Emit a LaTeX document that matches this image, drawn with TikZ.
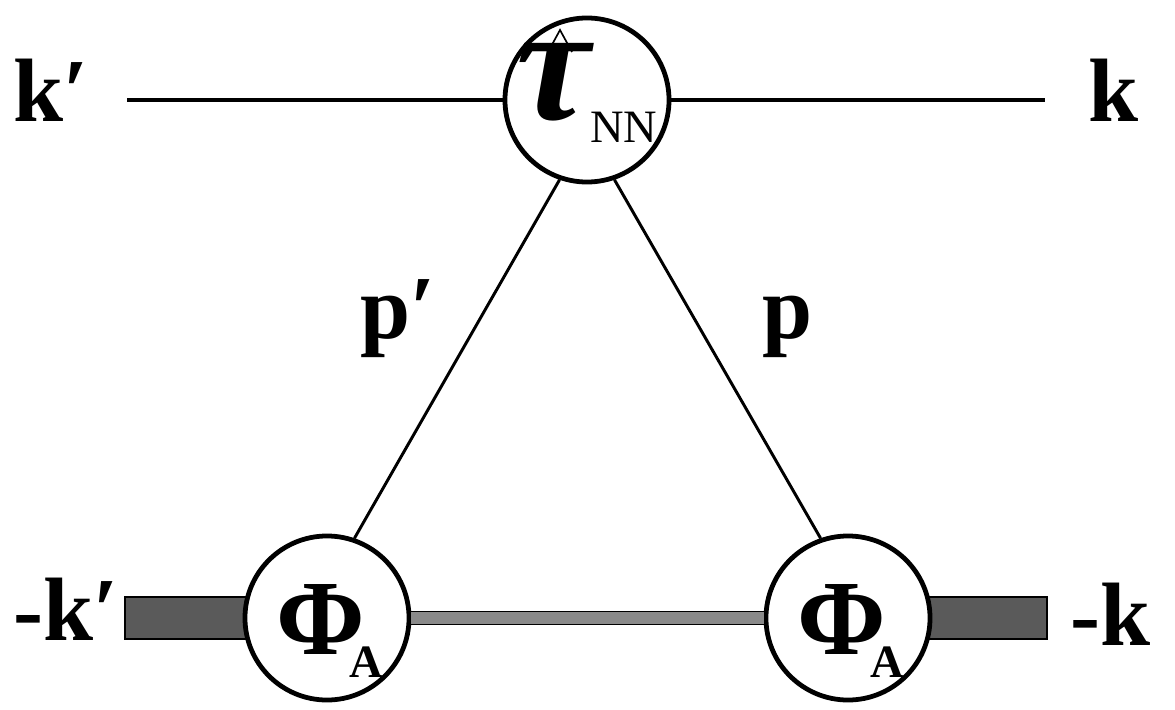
\documentclass[tikz,border=0pt]{standalone}
\usepackage{fontspec}
\setmainfont{Liberation Serif}
\usetikzlibrary{positioning,calc}
\definecolor{bargray}{RGB}{90,90,90}
\definecolor{linkgray}{RGB}{138,138,138}
% fixed-size contents, so that the circles keep their size
\newcommand{\incircle}[2]{\smash{\makebox[0pt]{\raisebox{#1}{#2}}}}

\begin{document}
\begin{tikzpicture}[x=0.025cm,y=-0.025cm,
    vertex/.style={circle, draw, fill=white, line width=3.4pt, inner sep=0pt, minimum size=4.1cm},
    leg/.style={line width=2.8pt},
    prop/.style={line width=2.1pt},
    bar/.style={fill=bargray, draw=black, line width=1.4pt},
    link/.style={draw=black, line width=1.2pt, double=linkgray, double distance=8pt},
    lbl/.style={font=\fontsize{64}{64}\selectfont\bfseries, inner sep=0pt, anchor=base west}]
    \useasboundingbox (0,0) rectangle (1175,709);
    % bottom legs, drawn under the circles
    \coordinate (pL) at (327,618);
    \coordinate (pR) at (848,618);
    \coordinate (mkpEnd) at (125,618);
    \coordinate (mkEnd) at (1047,618);
    \draw[bar] ($(mkpEnd)+(0,-21)$) rectangle ($(pL)+(0,21)$);
    \draw[bar] ($(pR)+(0,-21)$) rectangle ($(mkEnd)+(0,21)$);
    \node[vertex] (tau) at (587,100) {\incircle{-14pt}{\fontsize{118}{118}\selectfont\bfseries\itshape τ\raisebox{-16pt}{\fontsize{33}{33}\selectfont\mdseries\upshape NN}}};
    \node[vertex] (phiL) at (pL) {\incircle{-26pt}{\hspace{4pt}\fontsize{76}{76}\selectfont\bfseries Φ\hspace{-11pt}\raisebox{-16pt}{\fontsize{33}{33}\selectfont\bfseries A}}};
    \node[vertex] (phiR) at (pR) {\incircle{-26pt}{\hspace{4pt}\fontsize{76}{76}\selectfont\bfseries Φ\hspace{-11pt}\raisebox{-16pt}{\fontsize{33}{33}\selectfont\bfseries A}}};
    % hat over the tau
    \draw[line width=1.2pt] ($(tau)+(-39,-48)$) -- ++(12,-22) -- ++(12,22);
    \coordinate (kpEnd) at (127,100);
    \coordinate (kEnd) at (1045,100);
    \draw[leg] (kpEnd) -- (tau);
    \draw[leg] (tau) -- (kEnd);
    \draw[prop] (tau.251) -- (phiL.71);
    \draw[prop] (tau.289) -- (phiR.109);
    \draw[link] (phiL) -- (phiR);
    \node[lbl] (kp) at (13,122) {k′};
    \node[lbl] (k) at (1088,122) {k};
    \node[lbl] (pp) at (360,338) {p′};
    \node[lbl] (p) at (762,338) {p};
    \node[lbl] (mkp) at (13,640) {-k′};
    \node[lbl] (mk) at (1070,645) {-k};
\end{tikzpicture}
\end{document}
